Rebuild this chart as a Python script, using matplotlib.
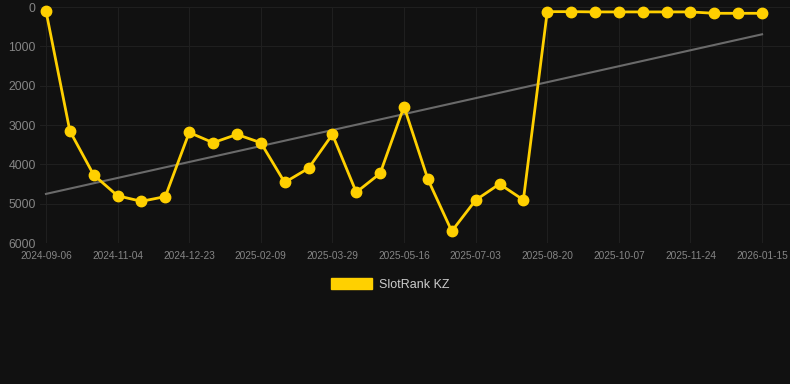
import matplotlib
matplotlib.use("Agg")
import matplotlib.pyplot as plt
import numpy as np
from matplotlib.patches import Patch

plt.rcParams['font.family'] = ['Liberation Sans', 'DejaVu Sans']

tick_labels = ["2024-09-06", "2024-11-04", "2024-12-23", "2025-02-09", "2025-03-29",
               "2025-05-16", "2025-07-03", "2025-08-20", "2025-10-07", "2025-11-24",
               "2026-01-15"]
ranks = [100, 3150, 4270, 4800, 4940, 4820, 3190, 3450, 3240, 3450,
         4460, 4100, 3240, 4710, 4230, 2530, 4380, 5700, 4910, 4500,
         4905, 118, 118, 125, 125, 125, 125, 125, 160, 160, 160]
series_name = "SlotRank KZ"

bg = "#111111"
fig = plt.figure(figsize=(7.9, 3.84), dpi=100, facecolor=bg)
ax = fig.add_axes([40/790, (384-243)/384, 750/790, 236/384], facecolor=bg)

x = np.arange(len(ranks))
y = np.array(ranks, dtype=float)

coef = np.polyfit(x, y, 1)
ax.plot(x, np.polyval(coef, x), color="#6a6a6a", lw=1.5, zorder=2)

ax.plot(x, y, color="#FFD000", lw=2.0, marker="o", markersize=7.5,
        markerfacecolor="#FFD000", markeredgecolor="#FFD000", zorder=3, clip_on=False)

ax.set_xlim(-0.25, 31.17)
ax.set_ylim(6000, 0)
ax.set_yticks(np.arange(0, 6001, 1000))
ax.set_yticklabels([str(v) for v in range(0, 6001, 1000)])
ax.set_xticks(np.arange(0, len(ranks), 3))
ax.set_xticklabels(tick_labels)

ax.grid(True, color="#1f1f1f", lw=0.8)
ax.set_axisbelow(True)
for s in ax.spines.values():
    s.set_visible(False)
ax.tick_params(axis='y', colors="#858585", labelsize=8.8, length=0, pad=3)
ax.tick_params(axis='x', colors="#858585", labelsize=7.3, length=0, pad=6)

handle = Patch(facecolor="#FFD000", edgecolor="#FFD000")
leg = fig.legend([handle], [series_name], loc="center", bbox_to_anchor=(390/790, 1-284.5/384),
                 frameon=False, fontsize=9, labelcolor="#cccccc",
                 handlelength=3.33, handleheight=0.9, handletextpad=0.5)

fig.savefig("out.png", dpi=100, facecolor=bg)
